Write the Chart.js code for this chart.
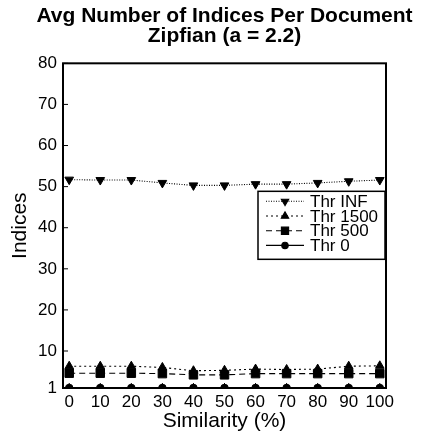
<!DOCTYPE html>
<html>
<head>
<meta charset="utf-8">
<script src="https://cdn.jsdelivr.net/npm/chart.js@4/dist/chart.umd.min.js"></script>
<style>
  html, body { margin: 0; padding: 0; background: #fff; }
  #wrap { width: 422px; height: 439px; }
</style>
</head>
<body>
<div id="wrap"><canvas id="c" width="422" height="439"></canvas></div>
<script>
// Similarity levels (%) on the x axis
const similarity = [0, 10, 20, 30, 40, 50, 60, 70, 80, 90, 100];
// Average number of indices per document for each threshold
const thrINF  = [51.7, 51.6, 51.6, 50.9, 50.3, 50.3, 50.6, 50.6, 50.9, 51.3, 51.6];
const thr1500 = [6.3, 6.3, 6.3, 6.0, 5.2, 5.3, 5.6, 5.5, 5.6, 6.3, 6.4];
const thr500  = [4.6, 4.6, 4.6, 4.5, 4.2, 4.2, 4.5, 4.5, 4.5, 4.5, 4.5];
const thr0    = [1, 1, 1, 1, 1, 1, 1, 1, 1, 1, 1];
// Tick labels
const xTicks = [0, 10, 20, 30, 40, 50, 60, 70, 80, 90, 100];
const yTicks = [1, 10, 20, 30, 40, 50, 60, 70, 80];
const seriesNames = ['Thr INF', 'Thr 1500', 'Thr 500', 'Thr 0'];

const FONT = '"Liberation Sans", Arial, Helvetica, sans-serif';

function toPoints(values) {
  return similarity.map((s, i) => ({ x: s, y: values[i] }));
}

const styles = [
  { dash: [1, 1.5], point: 'triangle', rotation: 180, radius: 5 },
  { dash: [2, 3],   point: 'triangle', rotation: 0,   radius: 5 },
  { dash: [6, 4],   point: 'rect',     rotation: 0,   radius: 6 },
  { dash: [],       point: 'circle',   rotation: 0,   radius: 3.8 }
];
const series = [thrINF, thr1500, thr500, thr0];

const datasets = series.map((vals, i) => ({
  label: seriesNames[i],
  data: toPoints(vals),
  borderColor: '#000',
  backgroundColor: '#000',
  pointBackgroundColor: '#000',
  pointBorderColor: '#000',
  borderWidth: 1.1,
  borderDash: styles[i].dash,
  pointStyle: styles[i].point,
  rotation: styles[i].rotation,
  pointRadius: styles[i].radius,
  pointBorderWidth: 1,
  tension: 0
}));

// Centre the title over the plot area rather than the whole canvas
const titleShift = {
  id: 'titleShift',
  afterLayout(chart) {
    const tb = chart.titleBlock;
    if (!tb) return;
    const a = chart.chartArea;
    const dx = (a.left + a.right) / 2 - (tb.left + tb.right) / 2;
    tb.left += dx;
    tb.right += dx;
  }
};

// Frame, inward ticks and the boxed legend inside the plot
const framePlugin = {
  id: 'frame',
  afterDraw(chart) {
    const { ctx, chartArea: a, scales } = chart;
    ctx.save();
    ctx.strokeStyle = '#000';
    ctx.lineWidth = 2;
    ctx.setLineDash([]);
    ctx.strokeRect(a.left, a.top, a.right - a.left, a.bottom - a.top);

    ctx.lineWidth = 1;
    ctx.beginPath();
    yTicks.forEach(v => {
      const y = scales.y.getPixelForValue(v);
      ctx.moveTo(a.left, y);
      ctx.lineTo(a.left + 5, y);
    });
    xTicks.forEach(v => {
      const x = scales.x.getPixelForValue(v);
      ctx.moveTo(x, a.bottom);
      ctx.lineTo(x, a.bottom - 5);
    });
    ctx.stroke();

    // legend
    const bx = a.left + 195, by = a.top + 128, bw = 127, bh = 68;
    ctx.fillStyle = '#fff';
    ctx.fillRect(bx, by, bw, bh);
    ctx.lineWidth = 1.5;
    ctx.strokeRect(bx, by, bw, bh);
    ctx.font = '17px ' + FONT;
    ctx.textBaseline = 'middle';
    ctx.textAlign = 'left';
    chart.data.datasets.forEach((ds, i) => {
      const cy = by + 10 + i * 14.7;
      ctx.strokeStyle = '#000';
      ctx.lineWidth = 1.1;
      ctx.setLineDash(ds.borderDash);
      ctx.beginPath();
      ctx.moveTo(bx + 8, cy);
      ctx.lineTo(bx + 46, cy);
      ctx.stroke();
      ctx.setLineDash([]);
      ctx.fillStyle = '#000';
      Chart.helpers.drawPoint(ctx, {
        pointStyle: ds.pointStyle, rotation: ds.rotation,
        radius: ds.pointRadius * 0.85, borderWidth: 1
      }, bx + 27, cy);
      ctx.fillStyle = '#000';
      ctx.fillText(ds.label, bx + 52, cy + 1);
    });
    ctx.restore();
  }
};

new Chart(document.getElementById('c'), {
  type: 'line',
  data: { datasets },
  plugins: [titleShift, framePlugin],
  options: {
    responsive: false,
    animation: false,
    layout: { padding: { left: 0, right: 36, top: 0, bottom: 0 } },
    plugins: {
      legend: { display: false },
      tooltip: { enabled: false },
      title: {
        display: true,
        text: ['Avg Number of Indices Per Document', 'Zipfian (a = 2.2)'],
        color: '#000',
        fullSize: true,
        font: { family: FONT, size: 21, weight: 'bold', lineHeight: 0.96 },
        padding: { top: 6, bottom: 17 }
      }
    },
    scales: {
      x: {
        type: 'linear',
        min: -2,
        max: 102,
        afterBuildTicks(scale) { scale.ticks = xTicks.map(v => ({ value: v })); },
        afterFit(scale) { scale.height = 51; },
        grid: { display: false, drawTicks: false },
        border: { display: false },
        ticks: { color: '#000', font: { family: FONT, size: 17 }, padding: 4, maxRotation: 0, autoSkip: false },
        title: {
          display: true, text: 'Similarity (%)', color: '#000',
          font: { family: FONT, size: 21 }, padding: { top: 0, bottom: 5 }
        }
      },
      y: {
        type: 'linear',
        min: 1,
        max: 80,
        afterBuildTicks(scale) { scale.ticks = yTicks.map(v => ({ value: v })); },
        afterFit(scale) { scale.width = 63; },
        grid: { display: false, drawTicks: false },
        border: { display: false },
        ticks: { color: '#000', font: { family: FONT, size: 17 }, padding: 6, autoSkip: false },
        title: {
          display: true, text: 'Indices', color: '#000',
          font: { family: FONT, size: 21 }, padding: { top: 8, bottom: 0 }
        }
      }
    }
  }
});
</script>
</body>
</html>
